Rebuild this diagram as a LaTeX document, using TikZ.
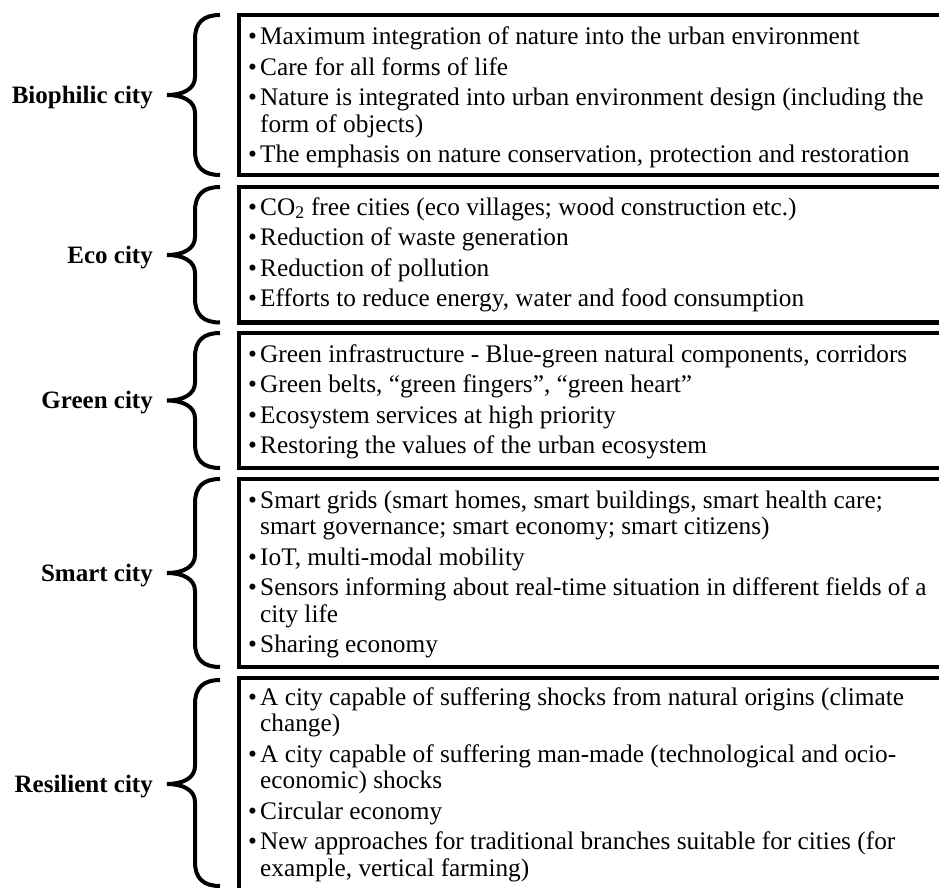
\documentclass[tikz,border=0pt]{standalone}
\usepackage{fontspec}
\setmainfont{Liberation Serif}
\newcommand\bul{\makebox[12pt][l]{•}}
\newcommand\citybrace[3]{% top, mid, bottom
  \draw[bracepath] (220,#1) .. controls (203,#1) and (195,#1+8) .. (195,#1+24)
    -- (195,#2-18) .. controls (195,#2-6) and (183,#2) .. (167,#2)
    .. controls (183,#2) and (195,#2+6) .. (195,#2+18)
    -- (195,#3-24) .. controls (195,#3-8) and (203,#3) .. (220,#3);}
\begin{document}
\begin{tikzpicture}[x=1pt,y=-1pt,
  boxframe/.style={draw, line width=4.5pt, inner sep=0pt, outer sep=0pt, anchor=north west, minimum width=760pt},
  lbl/.style={anchor=base east, inner sep=0pt, font=\fontsize{25}{26.5}\selectfont\bfseries},
  items/.style={anchor=base west, inner sep=0pt, font=\fontsize{25.3}{26.5}\selectfont},
  bracepath/.style={line width=4pt}]
\useasboundingbox (0,0) rectangle (939,888);
\clip (0,0) rectangle (939,888);
% boxes
\node[boxframe, minimum height=160pt] (b1) at (239,15) {};
\node[boxframe, minimum height=135.5pt] (b2) at (239,187) {};
\node[boxframe, minimum height=135pt] (b3) at (239,333) {};
\node[boxframe, minimum height=188pt] (b4) at (239,479) {};
\node[boxframe, minimum height=215pt] (b5) at (239,678) {};
% braces
\citybrace{15}{95}{175}
\citybrace{187}{255}{322.5}
\citybrace{333}{400.5}{468}
\citybrace{479}{573}{667}
\citybrace{680}{784}{886}
% labels
\node[lbl] (l1) at (153,104) {Biophilic city};
\node[lbl] (l2) at (153,263) {Eco city};
\node[lbl] (l3) at (153,408) {Green city};
\node[lbl] (l4) at (153,581) {Smart city};
\node[lbl] (l5) at (153,792) {Resilient city};
% texts
\node[items] (t1) at (248,45) {\begin{tabular}[t]{@{}l@{}l@{}}
\bul & Maximum integration of nature into the urban environment\\[4pt]
\bul & Care for all forms of life\\[4pt]
\bul & Nature is integrated into urban environment design (including the\\
 & form of objects)\\[4pt]
\bul & The emphasis on nature conservation, protection and restoration
\end{tabular}};
\node[items] (t2) at (248,215) {\begin{tabular}[t]{@{}l@{}l@{}}
\bul & CO\textsubscript{2} free cities (eco villages; wood construction etc.)\\[4pt]
\bul & Reduction of waste generation\\[4pt]
\bul & Reduction of pollution\\[4pt]
\bul & Efforts to reduce energy, water and food consumption
\end{tabular}};
\node[items] (t3) at (248,362) {\begin{tabular}[t]{@{}l@{}l@{}}
\bul & Green infrastructure - Blue-green natural components, corridors\\[4pt]
\bul & Green belts, “green fingers”, “green heart”\\[4pt]
\bul & Ecosystem services at high priority\\[4pt]
\bul & Restoring the values of the urban ecosystem
\end{tabular}};
\node[items] (t4) at (248,508) {\begin{tabular}[t]{@{}l@{}l@{}}
\bul & Smart grids (smart homes, smart buildings, smart health care;\\
 & smart governance; smart economy; smart citizens)\\[4pt]
\bul & IoT, multi-modal mobility\\[4pt]
\bul & Sensors informing about real-time situation in different fields of a\\
 & city life\\[4pt]
\bul & Sharing economy
\end{tabular}};
\node[items] (t5) at (248,705) {\begin{tabular}[t]{@{}l@{}l@{}}
\bul & A city capable of suffering shocks from natural origins (climate\\
 & change)\\[4pt]
\bul & A city capable of suffering man-made (technological and ocio-\\
 & economic) shocks\\[4pt]
\bul & Circular economy\\[4pt]
\bul & New approaches for traditional branches suitable for cities (for\\
 & example, vertical farming)
\end{tabular}};
\end{tikzpicture}
\end{document}
